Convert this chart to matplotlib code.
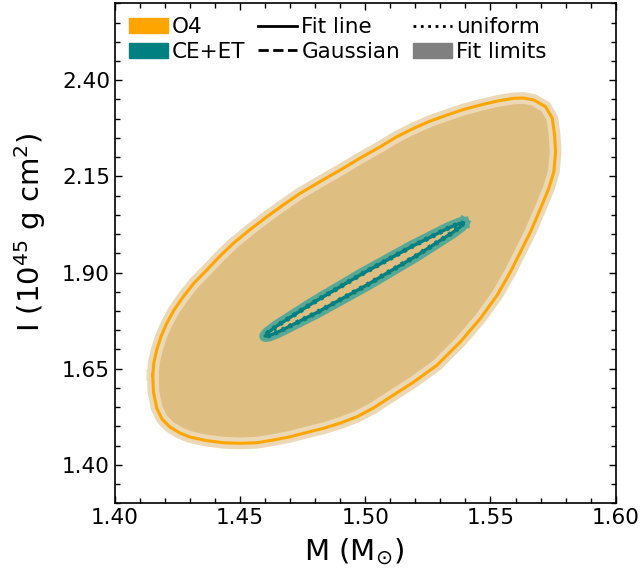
import numpy as np
import matplotlib
matplotlib.use('Agg')
import matplotlib.pyplot as plt
from matplotlib.patches import Patch
from matplotlib.lines import Line2D
from matplotlib.ticker import MultipleLocator, FormatStrFormatter

# O4 contour (M in Msun, I in 1e45 g cm^2)
o4_m = [1.4151, 1.4154, 1.4167, 1.4188, 1.4220, 1.4260, 1.4300, 1.4364, 1.4433,
        1.4500, 1.4567, 1.4632, 1.4700, 1.4764, 1.4833, 1.4900, 1.4967, 1.5032,
        1.5100, 1.5193, 1.5287, 1.5380, 1.5460, 1.5527, 1.5580, 1.5620, 1.5660,
        1.5700, 1.5733, 1.5753, 1.5760, 1.5756, 1.5747, 1.5720, 1.5673, 1.5632,
        1.5593, 1.5528, 1.5460, 1.5392, 1.5327, 1.5260, 1.5193, 1.5124, 1.5060,
        1.4980, 1.4900, 1.4820, 1.4740, 1.4672, 1.4607, 1.4540, 1.4473, 1.4420,
        1.4367, 1.4316, 1.4273, 1.4236, 1.4207, 1.4184, 1.4167, 1.4156]
o4_i = [1.6335, 1.5893, 1.5477, 1.5191, 1.4983, 1.4827, 1.4723, 1.4632, 1.4575,
        1.4560, 1.4575, 1.4645, 1.4731, 1.4840, 1.4949, 1.5087, 1.5251, 1.5477,
        1.5763, 1.6153, 1.6595, 1.7201, 1.7810, 1.8415, 1.9021, 1.9541, 2.0061,
        2.0670, 2.1190, 2.1621, 2.2141, 2.2576, 2.3010, 2.3311, 2.3486, 2.3538,
        2.3530, 2.3460, 2.3356, 2.3239, 2.3096, 2.2940, 2.2750, 2.2524, 2.2271,
        2.1978, 2.1666, 2.1367, 2.1060, 2.0756, 2.0452, 2.0119, 1.9760, 1.9430,
        1.9066, 1.8728, 1.8372, 1.8026, 1.7680, 1.7337, 1.6986, 1.6674]

# CE+ET contour
ce_m = [1.5391, 1.5382, 1.5345, 1.5204, 1.5008, 1.4808, 1.4659, 1.4617, 1.4600,
        1.4610, 1.4647, 1.4788, 1.4984, 1.5184, 1.5333, 1.5375]
ce_i = [2.0288, 2.0202, 2.0025, 1.9437, 1.8683, 1.7966, 1.7477, 1.7362, 1.7349,
        1.7433, 1.7612, 1.8200, 1.8954, 1.9671, 2.0160, 2.0272]

x_ticks = [1.40, 1.45, 1.50, 1.55, 1.60]
y_ticks = [1.40, 1.65, 1.90, 2.15, 2.40]

tan = '#dfbe82'
tan_light = '#ebd8b6'
orange = '#ffa500'
teal = '#008080'
teal_light = '#58a895'

fig = plt.figure(figsize=(6.42, 5.73), dpi=100)
ax = fig.add_axes([0.179, 0.1216, 0.780, 0.8726])


def closed(a):
    return list(a) + [a[0]]


# O4: filled region, fit-limit band, fit line
ax.fill(o4_m, o4_i, color=tan, lw=0, zorder=1)
ax.plot(closed(o4_m), closed(o4_i), color=tan_light, lw=8.5,
        solid_joinstyle='round', zorder=2)
ax.plot(closed(o4_m), closed(o4_i), color=orange, lw=2.2,
        solid_joinstyle='round', zorder=3)

# CE+ET: band, interior, fit line
ax.plot(closed(ce_m), closed(ce_i), color=teal_light, lw=8.5,
        solid_joinstyle='round', zorder=4)
ax.fill(ce_m, ce_i, color=tan, lw=0, zorder=5)
ax.plot(closed(ce_m), closed(ce_i), color=teal, lw=3.6, ls=(0, (0.6, 1.0)),
        zorder=5.5)
ax.plot(closed(ce_m), closed(ce_i), color=teal, lw=2.4,
        solid_joinstyle='round', zorder=6)

ax.set_xlim(1.40, 1.60)
ax.set_ylim(1.30, 2.60)
ax.set_xticks(x_ticks)
ax.set_yticks(y_ticks)
ax.xaxis.set_major_formatter(FormatStrFormatter('%.2f'))
ax.yaxis.set_major_formatter(FormatStrFormatter('%.2f'))
ax.xaxis.set_minor_locator(MultipleLocator(0.01))
ax.yaxis.set_minor_locator(MultipleLocator(0.05))
ax.tick_params(which='both', direction='in', top=True, right=True,
               labelsize=15.5, width=1)
ax.tick_params(which='major', length=5)
ax.tick_params(which='minor', length=3.5)
for s in ax.spines.values():
    s.set_linewidth(1.2)

ax.set_xlabel(r'M (M$_{\odot}$)', fontsize=21, labelpad=6)
ax.set_ylabel(r'I (10$^{45}$ g cm$^{2}$)', fontsize=21, labelpad=10)
ax.xaxis.label.set_x(0.477)
ax.yaxis.label.set_y(0.543)

handles = [Patch(color=orange, label='O4'),
           Patch(color=teal, label='CE+ET'),
           Line2D([], [], color='k', lw=2, label='Fit line'),
           Line2D([], [], color='k', lw=2, ls='--', label='Gaussian'),
           Line2D([], [], color='k', lw=2, ls=':', label='uniform'),
           Patch(color='grey', label='Fit limits')]
ax.legend(handles=handles, ncol=3, loc='upper left', frameon=False,
          fontsize=15.5, handlelength=1.8, handletextpad=0.2,
          columnspacing=0.6, labelspacing=0.2, borderaxespad=0.25)

plt.savefig('out.png')
